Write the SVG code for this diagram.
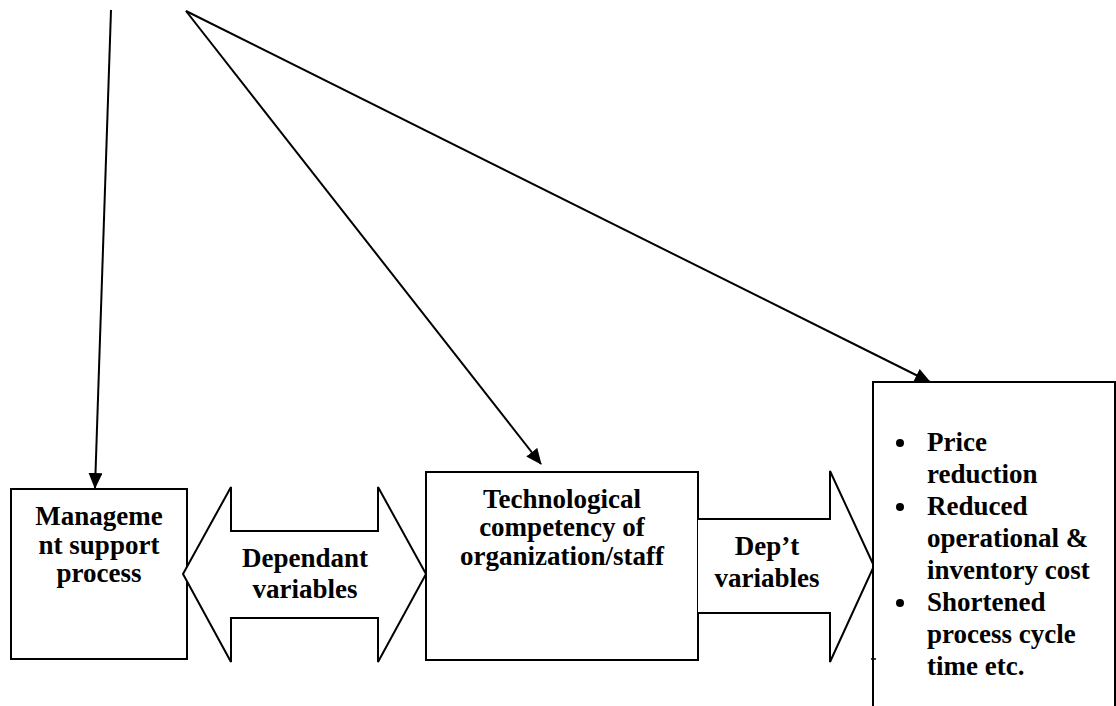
<svg xmlns="http://www.w3.org/2000/svg" width="1116" height="706" viewBox="0 0 1116 706">
<style>
.box{fill:#fff;stroke:#000;stroke-width:2}
.conn{stroke:#000;stroke-width:2;fill:none}
text{font-family:"Liberation Serif","Times New Roman",serif;font-weight:bold;font-size:27px;fill:#000}
.c{text-anchor:middle}
</style>
<defs>
<marker id="ah" viewBox="0 0 16 14" refX="15" refY="7" markerWidth="16" markerHeight="14" markerUnits="userSpaceOnUse" orient="auto">
<path d="M0,0 L16,7 L0,14 Z" fill="#000"/>
</marker>
</defs>
<rect width="1116" height="706" fill="#fff"/>
<g id="connectors">
<line class="conn" x1="111" y1="10" x2="95" y2="488" marker-end="url(#ah)"/>
<line class="conn" x1="186" y1="11" x2="541" y2="464" marker-end="url(#ah)"/>
<line class="conn" x1="186" y1="11" x2="930" y2="382" marker-end="url(#ah)"/>
</g>
<g id="mgmt">
<rect class="box" x="11" y="489" width="176" height="170"/>
<text class="c" x="99" y="525">Manageme</text>
<text class="c" x="99" y="554">nt support</text>
<text class="c" x="99" y="582">process</text>
</g>
<g id="dependant-arrow">
<path class="box" d="M183,574 L231,487 L231,531 L378,531 L378,487 L426,574 L378,662 L378,618 L231,618 L231,662 Z"/>
<text class="c" x="305" y="567">Dependant</text>
<text class="c" x="305" y="598">variables</text>
</g>
<g id="tech">
<rect class="box" x="426" y="472" width="272" height="188"/>
<text class="c" x="562" y="508">Technological</text>
<text class="c" x="562" y="536">competency of</text>
<text class="c" x="562" y="565">organization/staff</text>
</g>
<g id="dept-arrow">
<path class="box" d="M698,519 L830,519 L830,471 L874,566 L830,662 L830,613 L698,613"/>
<text class="c" x="767" y="555">Dep’t</text>
<text class="c" x="767" y="587">variables</text>
</g>
<g id="outcomes">
<rect class="box" x="873" y="382" width="242" height="330"/>
<line x1="871" y1="659" x2="876" y2="659" stroke="#000" stroke-width="1.5"/>
<circle cx="900" cy="443" r="4"/>
<circle cx="900" cy="507" r="4"/>
<circle cx="900" cy="603" r="4"/>
<text x="927" y="451">Price</text>
<text x="927" y="483">reduction</text>
<text x="927" y="515">Reduced</text>
<text x="927" y="547">operational &amp;</text>
<text x="927" y="579">inventory cost</text>
<text x="927" y="611">Shortened</text>
<text x="927" y="643">process cycle</text>
<text x="927" y="675">time etc.</text>
</g>
</svg>
